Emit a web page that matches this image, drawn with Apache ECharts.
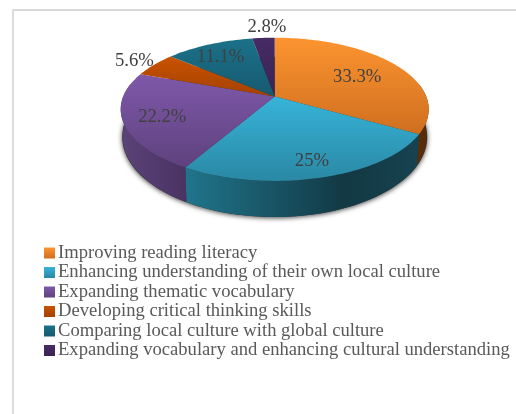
<!DOCTYPE html>
<html>
<head>
<meta charset="utf-8">
<style>html,body{margin:0;padding:0;background:#fff}#chart{width:516px;height:414px}</style>
<script src="https://cdn.jsdelivr.net/npm/echarts@6/dist/echarts.min.js"></script>
</head>
<body>
<div id="chart"></div>
<script>
// Survey shares, clockwise from twelve o'clock
const categories = [
  'Improving reading literacy',
  'Enhancing understanding of their own local culture',
  'Expanding thematic vocabulary',
  'Developing critical thinking skills',
  'Comparing local culture with global culture',
  'Expanding vocabulary and enhancing cultural understanding'
];
const shares = [33.3, 25, 22.2, 5.6, 11.1, 2.8];

// Top face gradient (far to near) and side wall gradient (left to right) per slice
const faceColors = [
  ['#fc9430', '#cf6f1f'], ['#37b4d9', '#2a88a4'], ['#7f58aa', '#5e427d'],
  ['#c95200', '#a34200'], ['#1b7189', '#165a70'], ['#462b64', '#3a2452']
];
const wallStops = [
  [[0, '#5c2e08'], [1, '#552a06']],
  [[0, '#20758c'], [0.68, '#123944'], [1, '#17424f']],
  [[0, '#5b4379'], [1, '#4a3263']],
  [[0, '#5c2e08'], [1, '#5c2e08']],
  [[0, '#123944'], [1, '#123944']],
  [[0, '#2d1c40'], [1, '#2d1c40']]
];
// Distance of each value label from the pie centre, as a fraction of the radius,
// and its sideways nudge in pixels
const labelRadius = [0.65, 0.81, 0.76, 1.19, 0.77, 1.27];
const labelNudge = [2, 0, 1, 1, -2, 6];

// Pie geometry: an elliptical disc seen in perspective, with a lower rim for the wall
const cx = 274.7, topCy = 109.3, topRx = 154, topRy = 71.6;
const baseCy = 137, baseRx = 152, baseRy = 80;
const tilt = 0.18;
const STEPS = 240;

// Maps a point of the unit disc to the projected disc (the centre shifts away from the viewer)
function project(x, y, ey, rx, ry) {
  const w = 1 + tilt * y;
  const px = x * Math.sqrt(1 - tilt * tilt) / w;
  const py = (y + tilt) / w;
  return [cx + rx * px, ey - ry * py];
}
const rimTop = a => project(Math.sin(a), Math.cos(a), topCy, topRx, topRy);
const rimBase = a => project(Math.sin(a), Math.cos(a), baseCy, baseRx, baseRy);

const total = shares.reduce((s, v) => s + v, 0);
const starts = shares.map((_, i) => shares.slice(0, i).reduce((s, v) => s + v, 0));

function vGrad(pair) {
  return new echarts.graphic.LinearGradient(0, 0, 0, 1, [
    { offset: 0, color: pair[0] }, { offset: 1, color: pair[1] }
  ]);
}

function sliceRenderer(i) {
  return function (params, api) {
    const value = api.value(0);
    const a0 = starts[i] / total * Math.PI * 2;
    const a1 = (starts[i] + value) / total * Math.PI * 2;
    const n = Math.max(4, Math.ceil((a1 - a0) / (Math.PI * 2) * STEPS));
    const children = [];

    // Wall: only the arc running along the near half of the rim
    const wa0 = Math.max(a0, rightLimit), wa1 = Math.min(a1, leftLimit);
    if (wa1 > wa0) {
      const upper = [], lower = [];
      for (let k = 0; k <= n; k++) {
        const a = wa0 + (wa1 - wa0) * k / n;
        upper.push(rimTop(a));
        lower.push(rimBase(a));
      }
      children.push({
        type: 'polygon',
        shape: { points: upper.concat(lower.reverse()) },
        style: {
          fill: new echarts.graphic.LinearGradient(0, 0, 1, 0,
            wallStops[i].map(s => ({ offset: s[0], color: s[1] }))),
          stroke: null
        }
      });
    }

    // Top face
    const face = [project(0, 0, topCy, topRx, topRy)];
    for (let k = 0; k <= n; k++) face.push(rimTop(a0 + (a1 - a0) * k / n));
    children.push({
      type: 'polygon',
      shape: { points: face },
      style: { fill: vGrad(faceColors[i]), stroke: null }
    });

    // Value label
    const mid = (a0 + a1) / 2, r = labelRadius[i];
    const at = project(r * Math.sin(mid), r * Math.cos(mid), topCy, topRx, topRy);
    children.push({
      type: 'text', z2: 10,
      style: {
        x: at[0] + labelNudge[i], y: at[1] + 2, text: value + '%',
        fill: '#404040', font: '18.7px "Liberation Serif"',
        align: 'center', verticalAlign: 'middle'
      }
    });
    return { type: 'group', children };
  };
}

// The near half of the rim runs between the disc's left and right extremes
const rightLimit = Math.PI / 2 - Math.asin(tilt);
const leftLimit = Math.PI * 1.5 + Math.asin(tilt);

const series = [{
  // Soft shadow under the lower rim
  type: 'custom', name: 'rim shadow', coordinateSystem: 'none', silent: true, z: 1,
  data: [[0]],
  renderItem: () => ({
    type: 'ellipse',
    shape: { cx, cy: baseCy, rx: baseRx + 0.5, ry: baseRy },
    style: { fill: '#333', shadowBlur: 5, shadowColor: 'rgba(0,0,0,0.75)', shadowOffsetY: 1 }
  })
}].concat(categories.map((name, i) => ({
  type: 'custom', name, coordinateSystem: 'none', z: 2 + (i === 0 ? 0 : 1),
  itemStyle: { color: vGrad(faceColors[i]) },
  data: [[shares[i]]],
  renderItem: sliceRenderer(i)
})));

const chart = echarts.init(document.getElementById('chart'), null, { renderer: 'canvas' });
chart.setOption({
  animation: false,
  backgroundColor: '#fff',
  graphic: [
    { type: 'rect', silent: true, shape: { x: 12, y: 9, width: 504, height: 2 }, style: { fill: '#d9d9d9' } },
    { type: 'rect', silent: true, shape: { x: 12, y: 9, width: 2, height: 405 }, style: { fill: '#dcdcdc' } }
  ],
  legend: {
    data: categories,
    orient: 'vertical',
    left: 39, top: 238.5,
    itemWidth: 11, itemHeight: 11, itemGap: 0.5,
    icon: 'rect',
    selectedMode: false,
    textStyle: {
      fontFamily: 'Liberation Serif', fontSize: 18.6, color: '#595959',
      padding: [0, 0, 0, -2], lineHeight: 17.5
    }
  },
  series
});
</script>
</body>
</html>
